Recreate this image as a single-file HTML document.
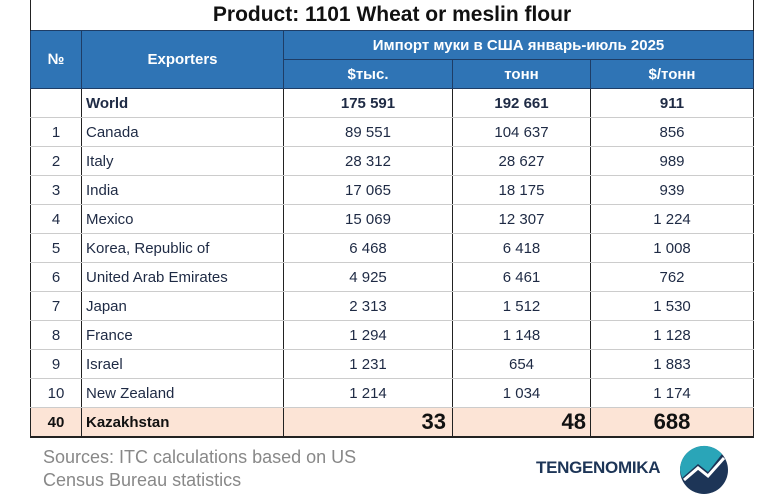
<!DOCTYPE html>
<html><head><meta charset="utf-8"><style>
body{margin:0;width:767px;height:496px;background:#fff;position:relative;overflow:hidden;font-family:"Liberation Sans Narrow","Liberation Sans",sans-serif;}
table{position:absolute;left:30px;top:0;border-collapse:collapse;width:723px;table-layout:fixed;}
td{height:28px;padding:0;border-left:1px solid #222;border-right:1px solid #222;border-bottom:1px solid #ccc;font-size:15px;color:#1e2a44;text-align:center;}
.t td{height:30px;font-size:21px;font-weight:bold;color:#111;border-bottom:none;border-top:none}
.h td{background:#2f74b5;color:#fff;font-weight:bold;font-size:15px;border:1px solid #1e3d66;}
td.n{text-align:left;padding-left:4px;}
.w td{font-weight:bold}
.k td{background:#fce4d6;font-weight:bold;border-bottom:2px solid #222;color:#111}
.k td.b{font-size:22px}
.src{position:absolute;left:43px;top:446px;font-size:18px;color:#888;line-height:23px}
.logo{position:absolute;left:536px;top:458px;font-size:17px;font-weight:bold;color:#1d3557;letter-spacing:-0.3px}
</style></head><body>
<table>
<colgroup><col style="width:51px"><col style="width:202px"><col style="width:169px"><col style="width:138px"><col style="width:163px"></colgroup>
<tr class="t"><td colspan="5">Product: 1101 Wheat or meslin flour</td></tr>
<tr class="h"><td rowspan="2">№</td><td rowspan="2">Exporters</td><td colspan="3">Импорт муки в США январь-июль 2025</td></tr>
<tr class="h"><td>$тыс.</td><td>тонн</td><td>$/тонн</td></tr>
<tr class="w"><td></td><td class="n">World</td><td>175 591</td><td>192 661</td><td>911</td></tr>
<tr><td>1</td><td class="n">Canada</td><td>89 551</td><td>104 637</td><td>856</td></tr>
<tr><td>2</td><td class="n">Italy</td><td>28 312</td><td>28 627</td><td>989</td></tr>
<tr><td>3</td><td class="n">India</td><td>17 065</td><td>18 175</td><td>939</td></tr>
<tr><td>4</td><td class="n">Mexico</td><td>15 069</td><td>12 307</td><td>1 224</td></tr>
<tr><td>5</td><td class="n">Korea, Republic of</td><td>6 468</td><td>6 418</td><td>1 008</td></tr>
<tr><td>6</td><td class="n">United Arab Emirates</td><td>4 925</td><td>6 461</td><td>762</td></tr>
<tr><td>7</td><td class="n">Japan</td><td>2 313</td><td>1 512</td><td>1 530</td></tr>
<tr><td>8</td><td class="n">France</td><td>1 294</td><td>1 148</td><td>1 128</td></tr>
<tr><td>9</td><td class="n">Israel</td><td>1 231</td><td>654</td><td>1 883</td></tr>
<tr><td>10</td><td class="n">New Zealand</td><td>1 214</td><td>1 034</td><td>1 174</td></tr>
<tr class="k"><td>40</td><td class="n">Kazakhstan</td><td class="b" style="text-align:right;padding-right:6px">33</td><td class="b" style="text-align:right;padding-right:4px">48</td><td class="b">688</td></tr>
</table>
<div class="src">Sources: ITC calculations based on US<br>Census Bureau statistics</div>
<div class="logo">TENGENOMIKA</div>
<svg style="position:absolute;left:678px;top:444px" width="52" height="52" viewBox="0 0 52 52">
<circle cx="26" cy="26" r="24" fill="#1d3557"/>
<path d="M2 26 A24 24 0 0 1 44 10 L30 28 L20 20 L4 34 Z" fill="#2aa5b8"/>
<path d="M6 36 L20 24 L30 32 L46 14" stroke="#fff" stroke-width="3" fill="none"/>
</svg>
</body></html>
